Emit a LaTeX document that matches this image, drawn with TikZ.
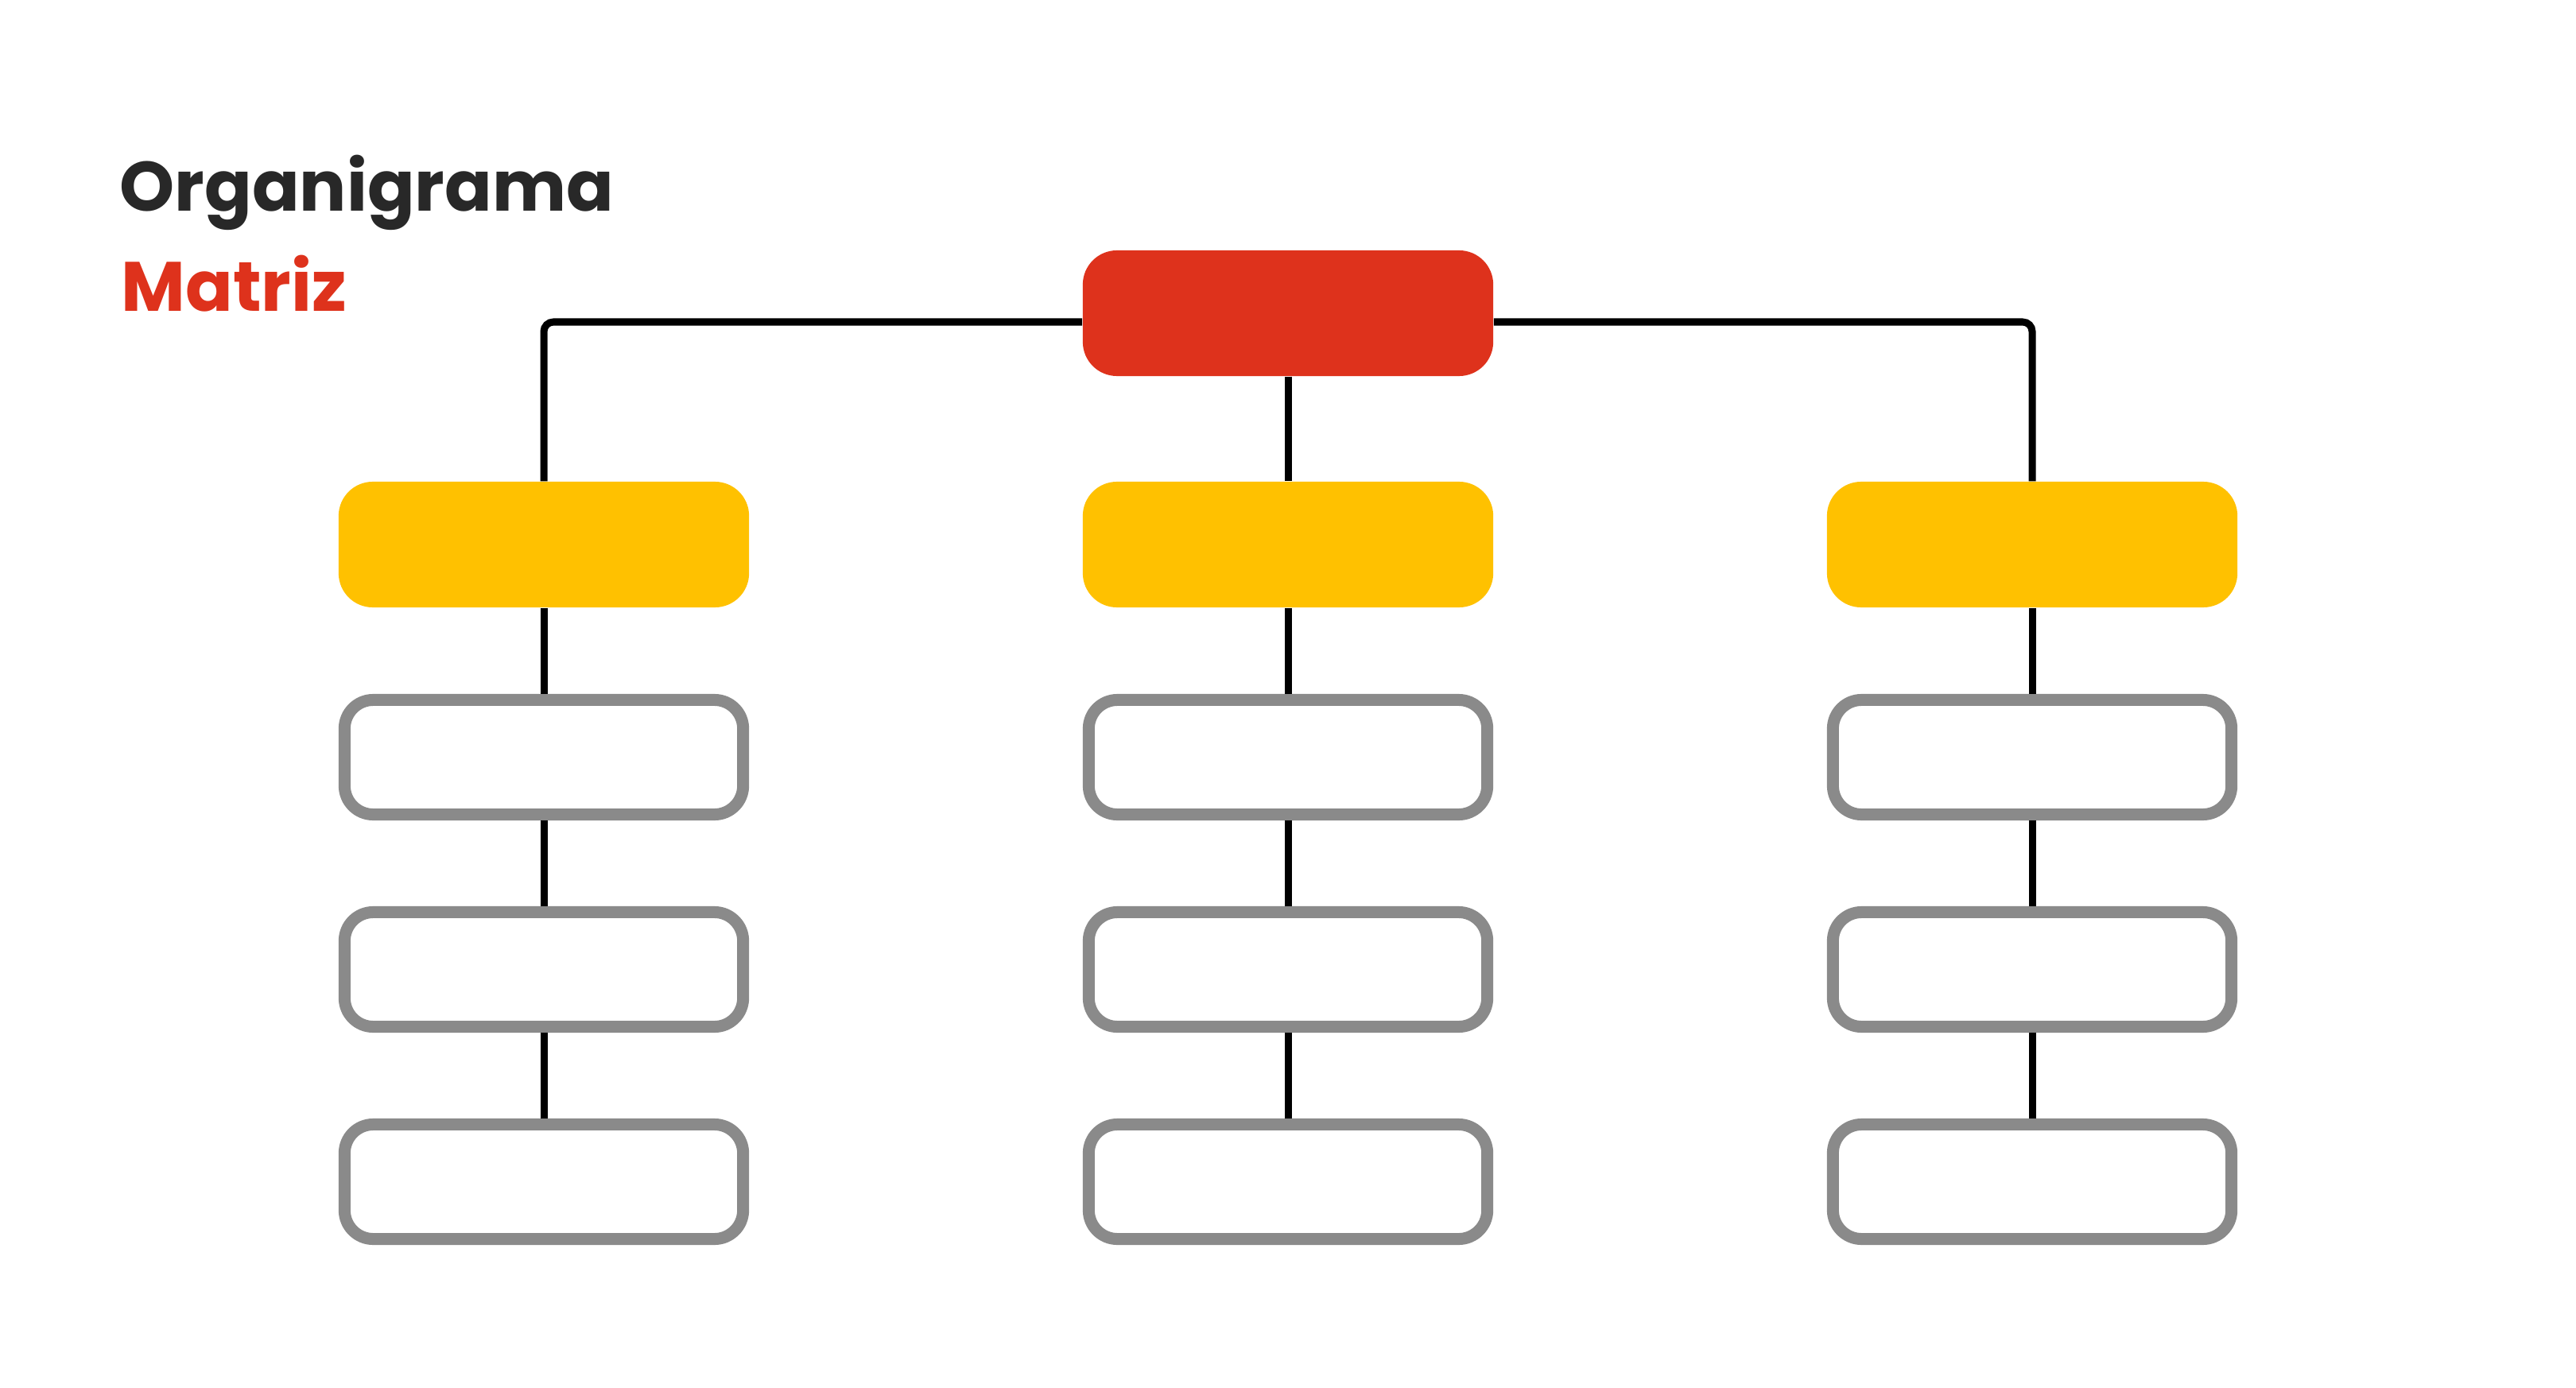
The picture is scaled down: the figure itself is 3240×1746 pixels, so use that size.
\documentclass[tikz,border=0pt]{standalone}
\usepackage{fontspec}
\setmainfont{Poppins}
\definecolor{titledark}{HTML}{282828}
\definecolor{topred}{HTML}{DE321C}
\definecolor{midyellow}{HTML}{FFC100}
\definecolor{boxgray}{HTML}{8A8A8A}
\tikzset{
  redbox/.style={fill=topred, draw=none, rounded corners=0.43cm, minimum width=5.16cm, minimum height=1.58cm, inner sep=0pt},
  yellowbox/.style={fill=midyellow, draw=none, rounded corners=0.43cm, minimum width=5.16cm, minimum height=1.58cm, inner sep=0pt},
  graybox/.style={fill=white, draw=boxgray, line width=0.15cm, rounded corners=0.36cm, minimum width=5.01cm, minimum height=1.44cm, inner sep=0pt},
  link/.style={draw=black, line width=0.09cm},
  titletext/.style={anchor=base west, inner sep=0pt, font=\fontsize{25pt}{30pt}\selectfont\bfseries}
}
\begin{document}
\begin{tikzpicture}[x=0.01cm, y=-0.01cm]
\fill[white] (0,0) rectangle (3240,1746);
\useasboundingbox (0,0) rectangle (3240,1746);

\node[titletext, text=titledark] (t1) at (150,266) {Organigrama};
\node[titletext, text=topred] (t2) at (152,392) {Matriz};

\node[redbox] (top) at (1620,394) {};

\node[yellowbox] (y1) at (684,685) {};
\node[yellowbox] (y2) at (1620,685) {};
\node[yellowbox] (y3) at (2556,685) {};

\foreach \c/\x in {1/684, 2/1620, 3/2556}{
  \node[graybox] (g\c a) at (\x,952.5) {};
  \node[graybox] (g\c b) at (\x,1219.5) {};
  \node[graybox] (g\c c) at (\x,1486.5) {};
}

\draw[link, rounded corners=0.12cm] ([yshift=-0.11cm]top.west) -| (y1.north);
\draw[link, rounded corners=0.12cm] ([yshift=-0.11cm]top.east) -| (y3.north);
\draw[link] (top.south) -- (y2.north);
\foreach \c in {1,2,3}{
  \draw[link] (y\c.south) -- (g\c a.north);
  \draw[link] (g\c a.south) -- (g\c b.north);
  \draw[link] (g\c b.south) -- (g\c c.north);
}
\end{tikzpicture}
\end{document}
